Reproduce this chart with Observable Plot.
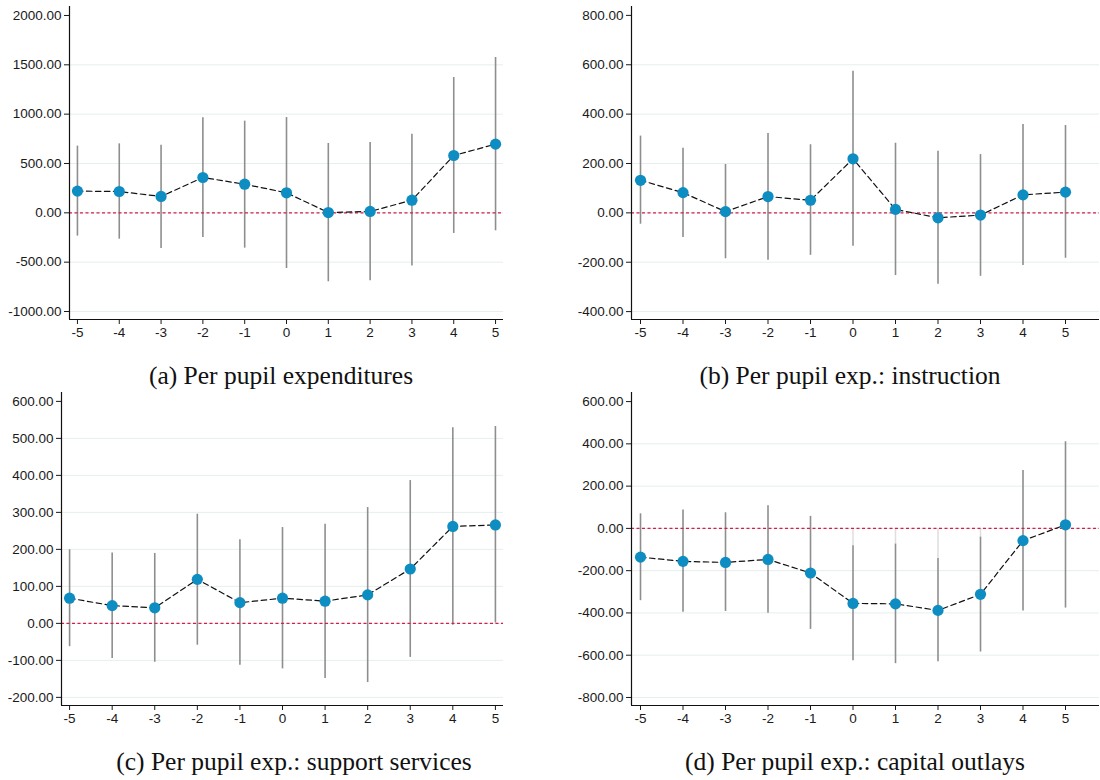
<!DOCTYPE html>
<html>
<head>
<meta charset="utf-8">
<script src="https://cdn.jsdelivr.net/npm/d3@7"></script>
<script src="https://cdn.jsdelivr.net/npm/@observablehq/plot@0.6"></script>
<style>
  body { margin: 0; background: #fff; }
  #wrap { position: relative; width: 1100px; height: 780px; overflow: hidden; background: #fff; }
  .panel { position: absolute; }
  .cap { position: absolute; font-family: "Liberation Serif", "Times New Roman", serif; font-size: 25.5px; color: #111; white-space: nowrap; transform: translateX(-50%); line-height: 28px; }
</style>
</head>
<body>
<div id="wrap"></div>
<script>
// ---- data ----
const periods = [-5, -4, -3, -2, -1, 0, 1, 2, 3, 4, 5];

// (a) Per pupil expenditures
const aCoef = [220, 216, 166, 358, 290, 203, 3, 14, 128, 581, 696];
const aLo   = [-236, -267, -361, -250, -358, -564, -699, -689, -540, -209, -182];
const aHi   = [676, 699, 686, 963, 929, 966, 703, 713, 797, 1371, 1574];
const aTicks = [-1000, -500, 0, 500, 1000, 1500, 2000];

// (b) Per pupil exp.: instruction
const bCoef = [132, 82, 5, 66, 51, 219, 14, -20, -9, 73, 84];
const bLo   = [-46, -100, -186, -192, -172, -135, -254, -289, -257, -213, -184];
const bHi   = [311, 262, 196, 322, 276, 574, 282, 250, 236, 358, 354];
const bTicks = [-400, -200, 0, 200, 400, 600, 800];

// (c) Per pupil exp.: support services
const cCoef = [68, 48, 42, 119, 56, 68, 60, 77, 147, 262, 266];
const cLo   = [-63, -95, -105, -59, -113, -123, -149, -160, -92, -5, 1];
const cHi   = [199, 190, 189, 295, 226, 259, 268, 313, 386, 529, 532];
const cTicks = [-200, -100, 0, 100, 200, 300, 400, 500, 600];

// (d) Per pupil exp.: capital outlays
const dCoef = [-136, -156, -161, -147, -211, -355, -357, -388, -312, -58, 17];
const dLo   = [-342, -397, -393, -402, -478, -626, -640, -631, -585, -391, -377];
const dHi   = [69, 87, 74, 107, 57, -82, -74, -142, -41, 274, 410];
const dTicks = [-800, -600, -400, -200, 0, 200, 400, 600];

const captions = [
  "(a) Per pupil expenditures",
  "(b) Per pupil exp.: instruction",
  "(c) Per pupil exp.: support services",
  "(d) Per pupil exp.: capital outlays"
];

// ---- layout ----
const panels = [
  {coef: aCoef, lo: aLo, hi: aHi, ticks: aTicks, xDom: [-5.19, 5.19], yDom: [-1081, 2091],
   left: 0, top: 0, width: 550, height: 345, ml: 69, mr: 47, mt: 6, mb: 26, cx: 281, cy: 362},
  {coef: bCoef, lo: bLo, hi: bHi, ticks: bTicks, xDom: [-5.212, 5.80], yDom: [-432, 836],
   left: 550, top: 0, width: 550, height: 345, ml: 81, mr: 1, mt: 6, mb: 26, cx: 850, cy: 362},
  {coef: cCoef, lo: cLo, hi: cHi, ticks: cTicks, xDom: [-5.19, 5.19], yDom: [-222, 624],
   left: 0, top: 390, width: 550, height: 341, ml: 61, mr: 47, mt: 2, mb: 26, cx: 294, cy: 748},
  {coef: dCoef, lo: dLo, hi: dHi, ticks: dTicks, xDom: [-5.212, 5.80], yDom: [-838, 643],
   left: 550, top: 390, width: 550, height: 341, ml: 81, mr: 1, mt: 2, mb: 26, cx: 855, cy: 748}
];

const wrap = document.getElementById("wrap");

panels.forEach((p, i) => {
  const rows = periods.map((t, k) => ({t, coef: p.coef[k], lo: p.lo[k], hi: p.hi[k]}));
  const faint = rows.filter(r => r.hi < 0);
  const grid = p.ticks.slice(0, -1);
  const chart = Plot.plot({
    width: p.width,
    height: p.height,
    marginLeft: p.ml, marginRight: p.mr, marginTop: p.mt, marginBottom: p.mb,
    style: {fontFamily: "'Liberation Sans', Arial, sans-serif", fontSize: "13.5px", color: "#1a1a1a", background: "transparent", overflow: "visible"},
    x: {domain: p.xDom, ticks: periods, tickFormat: d => String(d), tickSize: 5, tickPadding: 3, label: null},
    y: {domain: p.yDom, ticks: p.ticks, tickFormat: d => d.toFixed(2), tickSize: 5, tickPadding: 3, label: null},
    marks: [
      Plot.ruleY(grid, {stroke: "#e6eeee", strokeWidth: 1}),
      Plot.ruleX(faint, {x: "t", y1: "hi", y2: () => 0, stroke: "#dedede", strokeWidth: 1.5}),
      Plot.ruleX(rows, {x: "t", y1: "lo", y2: "hi", stroke: "#8e8e8e", strokeWidth: 1.6}),
      Plot.ruleY([0], {stroke: "#d21f4c", strokeWidth: 1.3, strokeDasharray: "3,2.5"}),
      Plot.line(rows, {x: "t", y: "coef", stroke: "#111", strokeWidth: 1.2, strokeDasharray: "5.5,3.5"}),
      Plot.dot(rows, {x: "t", y: "coef", r: 5.6, fill: "#0d8dc2", stroke: "none"}),
      Plot.ruleX([p.xDom[0]], {stroke: "#111", strokeWidth: 1.2}),
      Plot.ruleY([p.yDom[0]], {stroke: "#111", strokeWidth: 1.2})
    ]
  });
  chart.classList.add("panel");
  chart.style.left = p.left + "px";
  chart.style.top = p.top + "px";
  wrap.appendChild(chart);

  const cap = document.createElement("div");
  cap.className = "cap";
  cap.textContent = captions[i];
  cap.style.left = p.cx + "px";
  cap.style.top = p.cy + "px";
  wrap.appendChild(cap);
});
</script>
</body>
</html>
